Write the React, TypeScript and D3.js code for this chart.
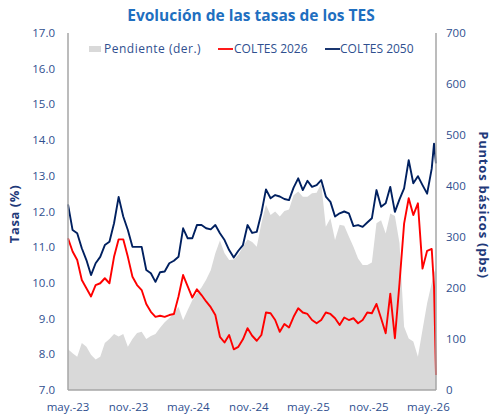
import React from "react";
import * as d3 from "d3";

// ---- Data (~bi-weekly from 1 May 2023) ----
const startDate = new Date(2023, 4, 1);
const dayOffsets: number[] = [
  0, 14, 28, 42, 56, 70, 84, 98, 112, 126, 140, 154, 168, 182, 196, 210, 224, 238, 252, 266,
  280, 294, 308, 322, 336, 350, 364, 378, 392, 406, 420, 434, 448, 462, 476, 490, 504, 518, 532, 546,
  560, 574, 588, 602, 616, 630, 644, 658, 672, 686, 700, 714, 728, 742, 756, 770, 784, 798, 812, 826,
  840, 854, 868, 882, 896, 910, 924, 938, 952, 966, 980, 994, 1008, 1022, 1036, 1050, 1064, 1078, 1092, 1106,
  1113, 1119,
];

const coltes2050: number[] = [
  12.2, 11.48, 11.39, 10.97, 10.64, 10.22, 10.55, 10.73, 11.06, 11.15,
  11.67, 12.41, 11.86, 11.48, 11.01, 11.01, 11.01, 10.36, 10.27, 10.03,
  10.3, 10.32, 10.55, 10.62, 10.73, 11.53, 11.25, 11.25, 11.62, 11.62,
  11.53, 11.5, 11.62, 11.39, 11.2, 10.92, 10.71, 10.9, 11.06, 11.62,
  11.4, 11.43, 11.95, 12.62, 12.37, 12.46, 12.42, 12.35, 12.32, 12.67,
  12.93, 12.6, 12.86, 12.69, 12.74, 12.88, 12.42, 12.27, 11.86, 11.95,
  12.0, 11.95, 11.59, 11.62, 11.57, 11.69, 11.81, 12.6, 12.13, 12.23,
  12.69, 11.99, 12.34, 12.65, 13.44, 12.79, 12.99, 12.74, 12.5, 13.2,
  13.9, 13.35,
];

const coltes2026: number[] = [
  11.25, 10.88, 10.64, 10.08, 9.85, 9.62, 9.94, 9.99, 10.13, 9.99,
  10.73, 11.22, 11.22, 10.73, 10.17, 9.94, 9.8, 9.41, 9.19, 9.05,
  9.08, 9.05, 9.1, 9.13, 9.62, 10.22, 9.9, 9.59, 9.82, 9.66,
  9.48, 9.32, 9.1, 8.49, 8.33, 8.54, 8.14, 8.21, 8.42, 8.73,
  8.52, 8.38, 8.54, 9.17, 9.15, 8.96, 8.63, 8.85, 8.75, 9.05,
  9.29, 9.17, 9.13, 8.96, 8.87, 8.96, 9.17, 9.13, 9.01, 8.82,
  9.03, 8.96, 9.01, 8.87, 8.96, 9.17, 9.15, 9.41, 9.01, 8.59,
  9.7, 8.45, 9.99, 11.66, 12.37, 11.9, 12.23, 10.4, 10.9, 10.95,
  9.9, 7.42,
];

const pendiente: number[] = [
  80, 72, 65, 92, 85, 69, 60, 65, 92, 100,
  110, 105, 110, 85, 100, 112, 114, 100, 106, 110,
  122, 133, 141, 150, 163, 137, 157, 176, 190, 201,
  216, 235, 268, 293, 268, 255, 256, 265, 281, 295,
  290, 281, 327, 363, 343, 350, 340, 351, 354, 382,
  389, 379, 379, 386, 387, 405, 320, 337, 294, 324,
  322, 301, 281, 258, 245, 245, 250, 327, 333, 307,
  346, 341, 288, 124, 101, 95, 65, 118, 170, 210,
  230, 240,
];

const xTickLabels = ["may.-23", "nov.-23", "may.-24", "nov.-24", "may.-25", "nov.-25", "may.-26"];
const xTickDates = [
  new Date(2023, 4, 1), new Date(2023, 10, 1), new Date(2024, 4, 1), new Date(2024, 10, 1),
  new Date(2025, 4, 1), new Date(2025, 10, 1), new Date(2026, 4, 1),
];
const leftTicks = [7, 8, 9, 10, 11, 12, 13, 14, 15, 16, 17];
const rightTicks = [0, 100, 200, 300, 400, 500, 600, 700];

const seriesNames = ["Pendiente (der.)", "COLTES 2026", "COLTES 2050"];
const title = "Evolución de las tasas de los TES";

export default function App() {
  const W = 493, H = 416;
  const L = 68, R = 436, T = 33, B = 390;
  const dates = dayOffsets.map((d) => d3.timeDay.offset(startDate, d));

  const x = d3.scaleTime().domain([dates[0], dates[dates.length - 1]]).range([L, R]);
  const yL = d3.scaleLinear().domain([7, 17]).range([B, T]);
  const yR = d3.scaleLinear().domain([0, 700]).range([B, T]);

  const area = d3.area<number>()
    .x((_, i) => x(dates[i]))
    .y0(yR(0))
    .y1((d) => yR(d));
  const line = d3.line<number>()
    .x((_, i) => x(dates[i]))
    .y((d) => yL(d));

  const font = "'Century Gothic', 'Open Sans', sans-serif";
  const tickColor = "#2F4F8F";
  const navy = "#002060";

  return (
    <svg width={W} height={H} style={{ position: "absolute", left: 0, top: 0 }} fontFamily={font}>
      <rect width={W} height={H} fill="#ffffff" />
      <text x={251} y={21} textAnchor="middle" fontSize={15.5} fontWeight="bold" fill="#1F6FC0">{title}</text>

      {/* series */}
      <path d={area(pendiente) || ""} fill="#D9D9D9" />
      <path d={line(coltes2026) || ""} fill="none" stroke="#FF0000" strokeWidth={1.9} strokeLinejoin="round" />
      <path d={line(coltes2050) || ""} fill="none" stroke={navy} strokeWidth={1.9} strokeLinejoin="round" />

      {/* axes */}
      <line x1={L} x2={L} y1={T} y2={B} stroke="#A6A6A6" strokeWidth={1.5} />
      <line x1={R} x2={R} y1={T} y2={B} stroke="#A6A6A6" strokeWidth={1.5} />
      <line x1={L} x2={R} y1={B} y2={B} stroke="#A6A6A6" strokeWidth={1.5} />

      {leftTicks.map((t) => (
        <text key={"l" + t} x={55} y={yL(t)} dy="0.35em" textAnchor="end" fontSize={11.5} fill={tickColor}>
          {t.toFixed(1)}
        </text>
      ))}
      {rightTicks.map((t) => (
        <text key={"r" + t} x={446} y={yR(t)} dy="0.35em" textAnchor="start" fontSize={11.5} fill={tickColor}>
          {t}
        </text>
      ))}
      {xTickLabels.map((lab, i) => (
        <text key={lab} x={x(xTickDates[i])} y={411} textAnchor="middle" fontSize={11.5} fill={tickColor}>
          {lab}
        </text>
      ))}

      <text transform={`translate(19,214) rotate(-90)`} textAnchor="middle" fontSize={13} letterSpacing={0.6} fontWeight="bold" fill="#1F3A7A">
        Tasa (%)
      </text>
      <text transform={`translate(479,205) rotate(90)`} textAnchor="middle" fontSize={13} letterSpacing={0.8} fontWeight="bold" fill="#1F3A7A">
        Puntos básicos (pbs)
      </text>

      {/* legend */}
      <rect x={89} y={46} width={12} height={6} fill="#D9D9D9" />
      <text x={104} y={49} dy="0.35em" fontSize={12} letterSpacing={0.5} fill={tickColor}>{seriesNames[0]}</text>
      <line x1={218} x2={233} y1={49} y2={49} stroke="#FF0000" strokeWidth={1.8} />
      <text x={234} y={49} dy="0.35em" fontSize={12} fill={tickColor}>{seriesNames[1]}</text>
      <line x1={325} x2={340} y1={49} y2={49} stroke={navy} strokeWidth={1.8} />
      <text x={340} y={49} dy="0.35em" fontSize={12} fill={tickColor}>{seriesNames[2]}</text>
    </svg>
  );
}
